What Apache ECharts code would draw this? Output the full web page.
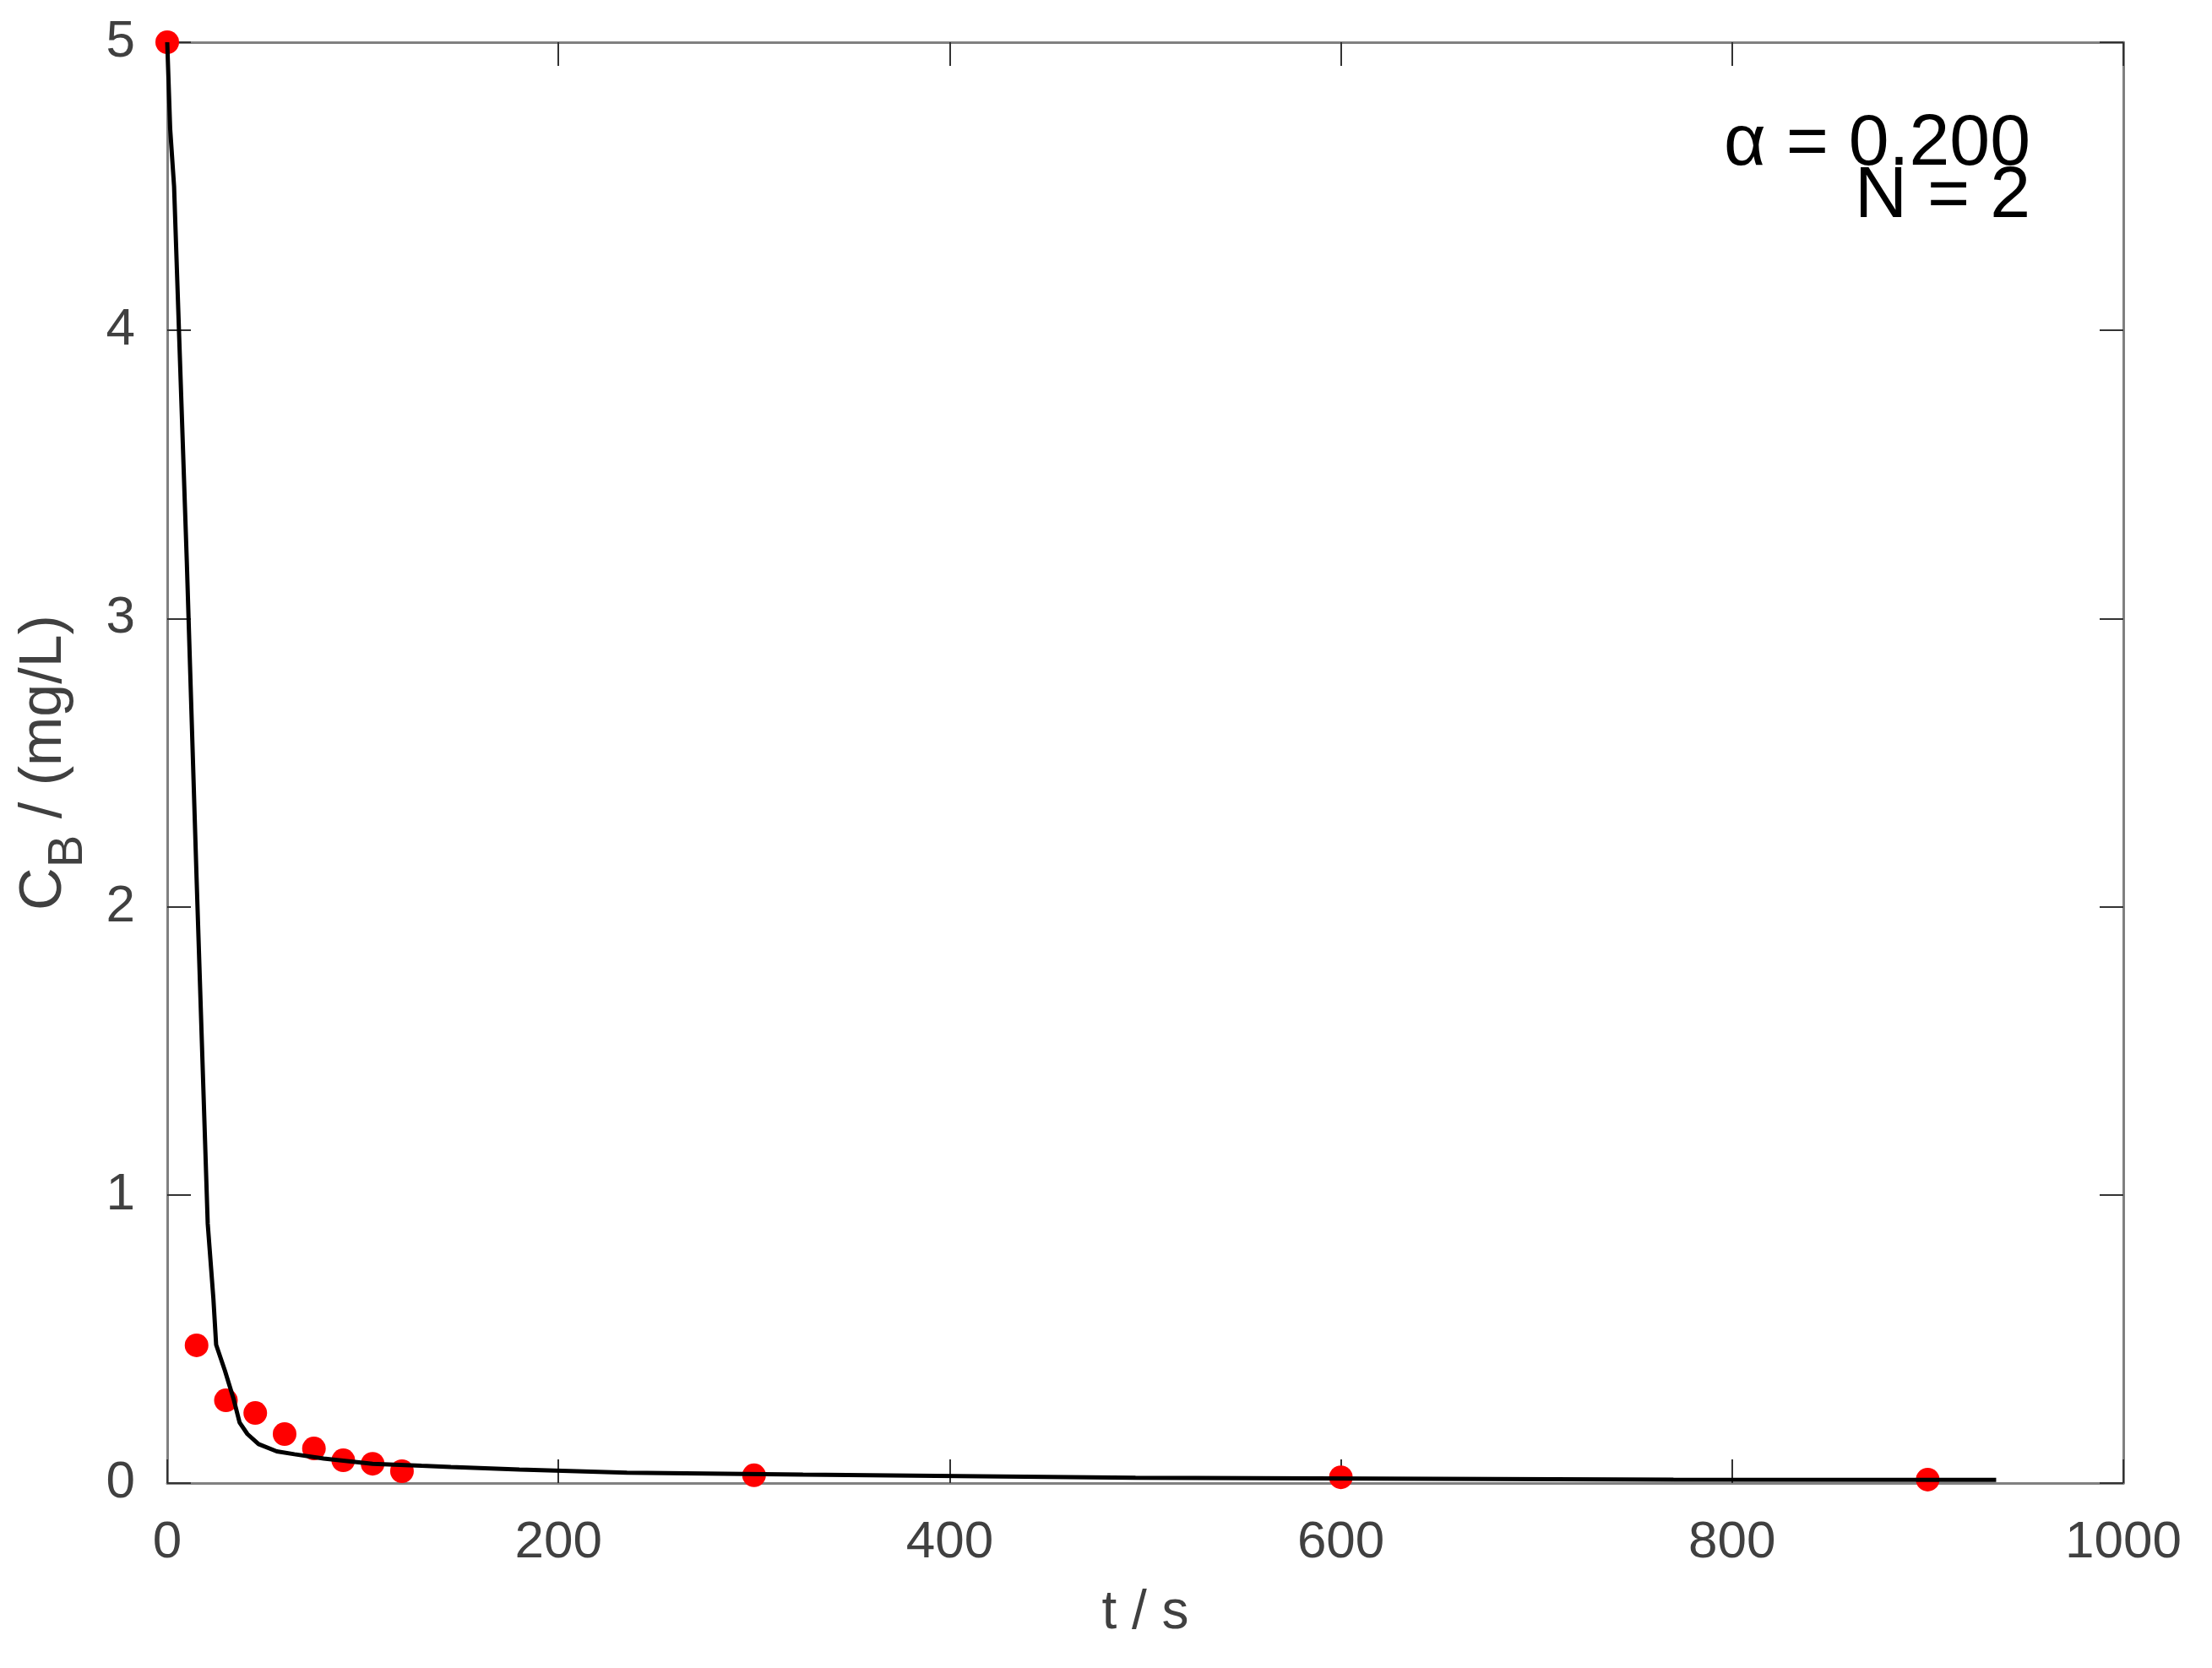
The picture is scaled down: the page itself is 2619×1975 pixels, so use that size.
<!DOCTYPE html>
<html>
<head>
<meta charset="utf-8">
<script src="https://cdn.jsdelivr.net/npm/echarts@6/dist/echarts.min.js"></script>
<style>
html,body{margin:0;padding:0;background:#fff;}
#chart{width:2619px;height:1975px;}
</style>
</head>
<body>
<div id="chart"></div>
<script>
// measured concentrations (red dots)
var measT = [0, 15, 30, 45, 60, 75, 90, 105, 120, 300, 600, 900];
var measC = [5, 0.478, 0.287, 0.243, 0.17, 0.12, 0.079, 0.067, 0.041, 0.027, 0.02, 0.012];
// model curve (black line)
var modelT = [0, 1.5, 3.5, 10, 15, 20.7, 23.6, 25, 29.5, 34, 37, 41, 46.7, 56, 65, 80, 105, 130, 145, 180, 235, 325, 495, 770, 935];
var modelC = [5, 4.7, 4.5, 3.2, 2.1, 0.9, 0.64, 0.48, 0.39, 0.29, 0.21, 0.17, 0.135, 0.11, 0.1, 0.085, 0.067, 0.06, 0.056, 0.047, 0.036, 0.029, 0.018, 0.012, 0.011];
var xTicks = [0, 200, 400, 600, 800, 1000];
var yTicks = [0, 1, 2, 3, 4, 5];
var annotLines = ['\u03B1 = 0.200', 'N = 2'];

function pairs(xs, ys){ return xs.map(function(x,i){ return [x, ys[i]]; }); }

var FONT = '"Liberation Sans", Arial, sans-serif';
var frameLine = {show:true, onZero:false, lineStyle:{color:'#808080', width:3}};
var tickIn = {show:true, inside:true, length:28, lineStyle:{color:'#333333', width:2}};
var plain = function(v){ return String(v); };

var chart = echarts.init(document.getElementById('chart'));
chart.setOption({
  animation:false,
  backgroundColor:'#ffffff',
  grid:{left:198, right:105, top:50, bottom:219, containLabel:false, outerBoundsMode:'none'},
  xAxis:[{
    type:'value', min:xTicks[0], max:xTicks[xTicks.length-1], interval:200,
    position:'bottom',
    axisLine:frameLine, axisTick:tickIn, splitLine:{show:false},
    axisLabel:{color:'#404040', fontSize:62, fontFamily:FONT, margin:40, formatter:plain},
    name:'t / s', nameLocation:'middle', nameGap:122,
    nameTextStyle:{color:'#404040', fontSize:64, fontFamily:FONT}
  },{
    type:'value', min:xTicks[0], max:xTicks[xTicks.length-1], interval:200,
    position:'top',
    axisLine:frameLine, axisTick:tickIn, axisLabel:{show:false}, splitLine:{show:false}
  }],
  yAxis:[{
    type:'value', min:yTicks[0], max:yTicks[yTicks.length-1], interval:1,
    position:'left',
    axisLine:frameLine, axisTick:tickIn, splitLine:{show:false},
    axisLabel:{color:'#404040', fontSize:62, fontFamily:FONT, margin:38, formatter:plain},
    name:'{a|C}{b|B}{a| / (mg/L)}', nameLocation:'middle', nameGap:88, nameRotate:90,
    nameTextStyle:{
      color:'#404040', fontSize:70, fontFamily:FONT,
      rich:{
        a:{fontSize:70, fontFamily:FONT, color:'#404040', lineHeight:114, verticalAlign:'middle'},
        b:{fontSize:58, fontFamily:FONT, color:'#404040', lineHeight:58, verticalAlign:'bottom'}
      }
    }
  },{
    type:'value', min:yTicks[0], max:yTicks[yTicks.length-1], interval:1,
    position:'right',
    axisLine:frameLine, axisTick:tickIn, axisLabel:{show:false}, splitLine:{show:false}
  }],
  graphic:[
    {type:'text', right:215, top:128, z:100,
     style:{text:annotLines[0], fontSize:86, fontFamily:FONT, fill:'#000000'}},
    {type:'text', right:215, top:190, z:101,
     style:{text:annotLines[1], fontSize:86, fontFamily:FONT, fill:'#000000'}}
  ],
  series:[{
    type:'scatter', xAxisIndex:0, yAxisIndex:0,
    data:pairs(measT, measC),
    symbol:'circle', symbolSize:28, clip:false, z:2,
    itemStyle:{color:'#ff0000', opacity:1}
  },{
    type:'line', xAxisIndex:0, yAxisIndex:0,
    data:pairs(modelT, modelC),
    showSymbol:false, symbol:'none', clip:false, z:3,
    lineStyle:{color:'#000000', width:5}
  }]
});
</script>
</body>
</html>
